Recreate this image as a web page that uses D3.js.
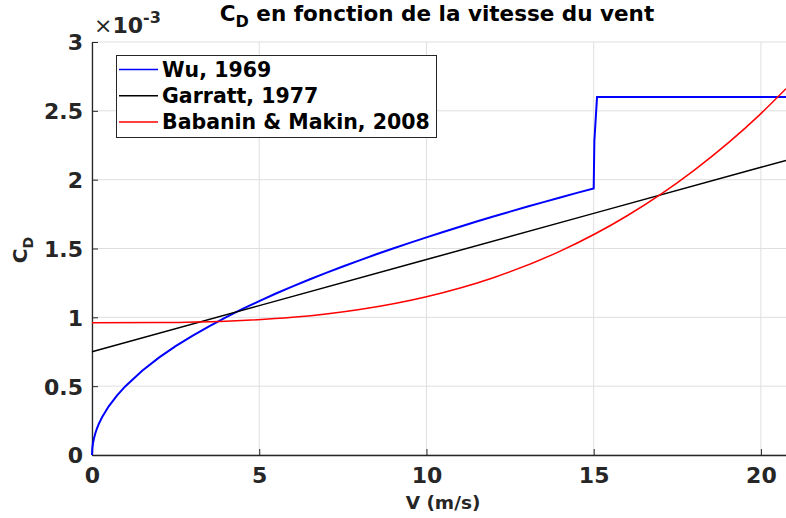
<!DOCTYPE html>
<html>
<head>
<meta charset="utf-8">
<script src="https://cdn.jsdelivr.net/npm/d3@7"></script>
<style>
  body { margin: 0; background: #fff; }
  text { font-family: "DejaVu Sans", sans-serif; font-weight: bold; }
</style>
</head>
<body>
<div id="chart"></div>
<script>
// values (C_D in units of 1e-3)
var wuV   = [0, 0.01, 0.03, 0.06, 0.1, 0.15, 0.2, 0.3, 0.5, 0.75, 1, 1.5, 2, 2.5, 3, 3.5, 4, 4.5, 5, 5.5, 6, 6.5, 7, 7.5, 8, 8.5, 9, 9.5, 10,
             10.5, 11, 11.5, 12, 12.5, 13, 13.5, 14, 14.5, 15, 15.02, 15.1, 20.75];
var wuCd  = [0, 0.05, 0.087, 0.122, 0.158, 0.194, 0.224, 0.274, 0.354, 0.433, 0.5, 0.612, 0.707, 0.791, 0.866, 0.935, 1.0, 1.061, 1.118, 1.173, 1.225, 1.275, 1.323, 1.369, 1.414, 1.458, 1.5, 1.541, 1.581,
             1.62, 1.658, 1.696, 1.732, 1.768, 1.803, 1.837, 1.871, 1.904, 1.936, 2.28, 2.6, 2.6];

var garV  = [0, 5, 10, 15, 20, 20.75];
var garCd = [0.75, 1.085, 1.42, 1.755, 2.09, 2.14];

var babV  = [0, 2, 4, 6, 8, 10, 12, 14, 16, 18, 20, 20.75];
var babCd = [0.96, 0.962, 0.972, 1.0, 1.057, 1.15, 1.288, 1.481, 1.738, 2.068, 2.48, 2.66];

var xTicks = [0, 5, 10, 15, 20];
var yTicks = [0, 0.5, 1, 1.5, 2, 2.5, 3];
var yTickLabels = ["0", "0.5", "1", "1.5", "2", "2.5", "3"];

var names  = ["Wu, 1969", "Garratt, 1977", "Babanin & Makin, 2008"];
var colors = ["#0000ff", "#000000", "#ff0000"];

var width = 786,
    height = 518,
    margin = {left: 92, right: 0, top: 42, bottom: 63};

var svg = d3.select("#chart")
  .append("svg")
    .attr("width", width)
    .attr("height", height);

var x = d3.scaleLinear()
    .domain([0, 20.75])
    .range([margin.left, width - margin.right]);

var y = d3.scaleLinear()
    .domain([0, 3])
    .range([height - margin.bottom, margin.top]);

// grid
svg.append("g")
  .selectAll("line")
  .data(xTicks)
  .enter()
  .append("line")
    .attr("x1", function(d){ return x(d); })
    .attr("x2", function(d){ return x(d); })
    .attr("y1", y(0))
    .attr("y2", y(3))
    .attr("stroke", "#dfdfdf")
    .attr("stroke-width", 1);

svg.append("g")
  .selectAll("line")
  .data(yTicks)
  .enter()
  .append("line")
    .attr("x1", x(0))
    .attr("x2", width)
    .attr("y1", function(d){ return y(d); })
    .attr("y2", function(d){ return y(d); })
    .attr("stroke", "#dfdfdf")
    .attr("stroke-width", 1);

// axes
var xAxis = svg.append("g")
    .attr("transform", "translate(0," + y(0) + ")")
    .call(d3.axisBottom(x).tickValues(xTicks).tickSizeInner(-6).tickSizeOuter(0).tickPadding(12));

var yAxis = svg.append("g")
    .attr("transform", "translate(" + x(0) + ",0)")
    .call(d3.axisLeft(y).tickValues(yTicks)
      .tickFormat(function(d, i){ return yTickLabels[i]; })
      .tickSizeInner(-6).tickSizeOuter(0).tickPadding(9));

[xAxis, yAxis].forEach(function(a){
  a.select(".domain").attr("stroke", "#262626").attr("stroke-width", 1.3);
  a.selectAll(".tick line").attr("stroke", "#262626");
  a.selectAll(".tick text")
    .attr("fill", "#262626")
    .style("font-size", "22px");
});
yAxis.selectAll(".tick text").attr("dy", "0.36em");
xAxis.selectAll(".tick text").attr("dy", "0.71em");

// clip
svg.append("clipPath")
    .attr("id", "clip")
  .append("rect")
    .attr("x", x(0) - 1)
    .attr("y", y(3) - 2)
    .attr("width", width - x(0) + 1)
    .attr("height", y(0) - y(3) + 3);

var series = [
  {v: wuV, cd: wuCd},
  {v: garV, cd: garCd},
  {v: babV, cd: babCd}
];

var line = d3.line()
    .x(function(d){ return x(d[0]); })
    .y(function(d){ return y(d[1]); });

svg.append("g")
    .attr("clip-path", "url(#clip)")
  .selectAll("path")
  .data(series)
  .enter()
  .append("path")
    .attr("d", function(s, i){
      var pts = s.v.map(function(v, j){ return [v, s.cd[j]]; });
      return line.curve(i == 2 ? d3.curveMonotoneX : d3.curveLinear)(pts);
    })
    .attr("fill", "none")
    .attr("stroke", function(s, i){ return colors[i]; })
    .attr("stroke-width", function(s, i){ return i == 0 ? 2 : 1.5; });

// legend
var leg = svg.append("g");
leg.append("rect")
    .attr("x", 116.5)
    .attr("y", 55.5)
    .attr("width", 320)
    .attr("height", 82)
    .attr("fill", "#fff")
    .attr("stroke", "#262626")
    .attr("stroke-width", 1);

var items = leg.selectAll("g")
  .data(names)
  .enter()
  .append("g")
    .attr("transform", function(d, i){ return "translate(0," + (69.5 + i * 26.3) + ")"; });

items.append("line")
    .attr("x1", 119)
    .attr("x2", 158)
    .attr("stroke", function(d, i){ return colors[i]; })
    .attr("stroke-width", 1.5);

items.append("text")
    .attr("x", 162)
    .attr("dy", "0.36em")
    .style("font-size", "20.5px")
    .attr("fill", "#000")
    .text(function(d){ return d; });

// title
var title = svg.append("text")
    .attr("x", 437)
    .attr("y", 21)
    .attr("text-anchor", "middle")
    .style("font-size", "21.5px")
    .attr("fill", "#000");
title.append("tspan").text("C");
title.append("tspan").attr("dy", 6).style("font-size", "16px").text("D");
title.append("tspan").attr("dy", -6).text(" en fonction de la vitesse du vent");

// exponent
var expo = svg.append("text")
    .attr("x", 94)
    .attr("y", 33)
    .style("font-size", "22px")
    .attr("fill", "#262626");
expo.append("tspan").style("font-weight", "normal").text("\u00d7");
expo.append("tspan").text("10");
expo.append("tspan").attr("dy", -10).style("font-size", "16px").text("-3");

// axis labels
svg.append("text")
    .attr("x", 443)
    .attr("y", 509)
    .attr("text-anchor", "middle")
    .style("font-size", "18.5px")
    .attr("fill", "#262626")
    .text("V (m/s)");

var yl = svg.append("text")
    .attr("transform", "translate(27,250) rotate(-90)")
    .attr("text-anchor", "middle")
    .style("font-size", "20px")
    .attr("fill", "#262626");
yl.append("tspan").text("C");
yl.append("tspan").attr("dy", 6).style("font-size", "14px").text("D");
</script>
</body>
</html>
